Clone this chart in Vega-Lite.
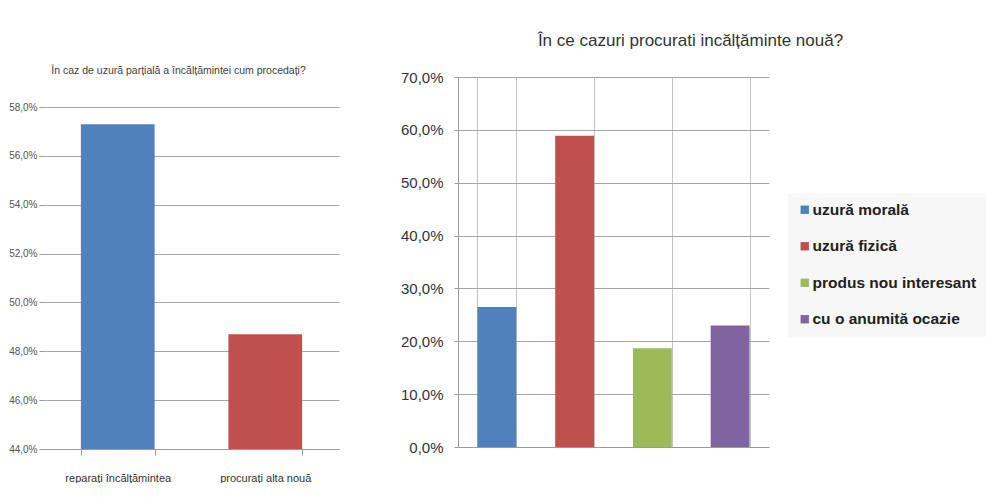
{
  "$schema": "https://vega.github.io/schema/vega-lite/v6.json",
  "background": "white",
  "padding": {"left": 8, "top": 32, "right": 0, "bottom": 0},
  "spacing": 61,
  "config": {
    "font": "Liberation Sans",
    "view": {"stroke": null},
    "axis": {"domainColor": "#9a9a9a", "tickColor": "#9a9a9a", "gridColor": "#a6a6a6", "labelFont": "Liberation Sans"},
    "legend": {"labelFont": "Liberation Sans"},
    "title": {"font": "Liberation Sans"}
  },
  "resolve": {"scale": {"color": "independent"}, "legend": {"color": "independent"}},
  "datasets": {
    "stanga": [
      {"raspuns": "reparați încălțămintea", "procent": 57.3},
      {"raspuns": "procurați alta nouă", "procent": 48.7}
    ],
    "dreapta": [
      {"caz": "uzură morală", "procent": 26.5},
      {"caz": "uzură fizică", "procent": 58.9},
      {"caz": "produs nou interesant", "procent": 18.7},
      {"caz": "cu o anumită ocazie", "procent": 23.0}
    ]
  },
  "hconcat": [
    {
      "width": 295,
      "height": 372,
      "data": {"name": "stanga"},
      "title": {
        "text": "În caz de uzură parțială a încălțămintei cum procedați?",
        "fontSize": 10.5,
        "fontWeight": "normal",
        "color": "#404040",
        "anchor": "middle",
        "dx": -13,
        "offset": 1
      },
      "mark": {"type": "bar", "clip": true},
      "encoding": {
        "x": {
          "field": "raspuns",
          "type": "nominal",
          "sort": null,
          "scale": {"paddingInner": 0.5, "paddingOuter": 0.25},
          "axis": {"title": null, "labelAngle": 0, "tickBand": "extent", "labelFontSize": 11, "labelColor": "#333333", "labelPadding": 17, "tickSize": 6}
        },
        "y": {
          "field": "procent",
          "type": "quantitative",
          "scale": {"domain": [44, 59.23], "zero": false, "nice": false},
          "axis": {
            "title": null,
            "domain": false,
            "values": [44, 46, 48, 50, 52, 54, 56, 58],
            "labelExpr": "replace(format(datum.value, '.1f'), '.', ',') + '%'",
            "labelFontSize": 10,
            "labelColor": "#555555",
            "tickSize": 5,
            "labelPadding": 2
          }
        },
        "color": {
          "field": "raspuns",
          "type": "nominal",
          "sort": null,
          "scale": {"range": ["#4F81BD", "#C0504D"]},
          "legend": null
        }
      }
    },
    {
      "width": 311,
      "height": 370,
      "data": {"name": "dreapta"},
      "title": {
        "text": "În ce cazuri procurati incălțăminte nouă?",
        "fontSize": 17,
        "fontWeight": "normal",
        "color": "#333333",
        "anchor": "middle",
        "dx": 77,
        "offset": 20
      },
      "mark": {"type": "bar"},
      "encoding": {
        "x": {
          "field": "caz",
          "type": "nominal",
          "sort": null,
          "scale": {"paddingInner": 0.5, "paddingOuter": 0.25},
          "axis": {"title": null, "labels": false, "ticks": false, "grid": true, "tickBand": "extent", "gridColor": "#c4c4c4"}
        },
        "y": {
          "field": "procent",
          "type": "quantitative",
          "scale": {"domain": [0, 70], "nice": false},
          "axis": {
            "title": null,
            "values": [0, 10, 20, 30, 40, 50, 60, 70],
            "labelExpr": "replace(format(datum.value, '.1f'), '.', ',') + '%'",
            "labelFontSize": 15,
            "labelColor": "#333333",
            "tickSize": 4,
            "labelPadding": 11
          }
        },
        "color": {
          "field": "caz",
          "type": "nominal",
          "sort": null,
          "scale": {"range": ["#4F81BD", "#C0504D", "#9BBB59", "#8064A2"]},
          "legend": {
            "title": null,
            "orient": "none",
            "legendX": 330,
            "legendY": 116,
            "symbolType": "square",
            "symbolSize": 70,
            "symbolStrokeWidth": 0,
            "labelFontSize": 15.5,
            "labelFontWeight": "bold",
            "labelColor": "#222222",
            "labelLimit": 300,
            "labelOffset": 0,
            "rowPadding": 19.5,
            "padding": 9,
            "fillColor": "#f7f7f7"
          }
        }
      }
    }
  ]
}
